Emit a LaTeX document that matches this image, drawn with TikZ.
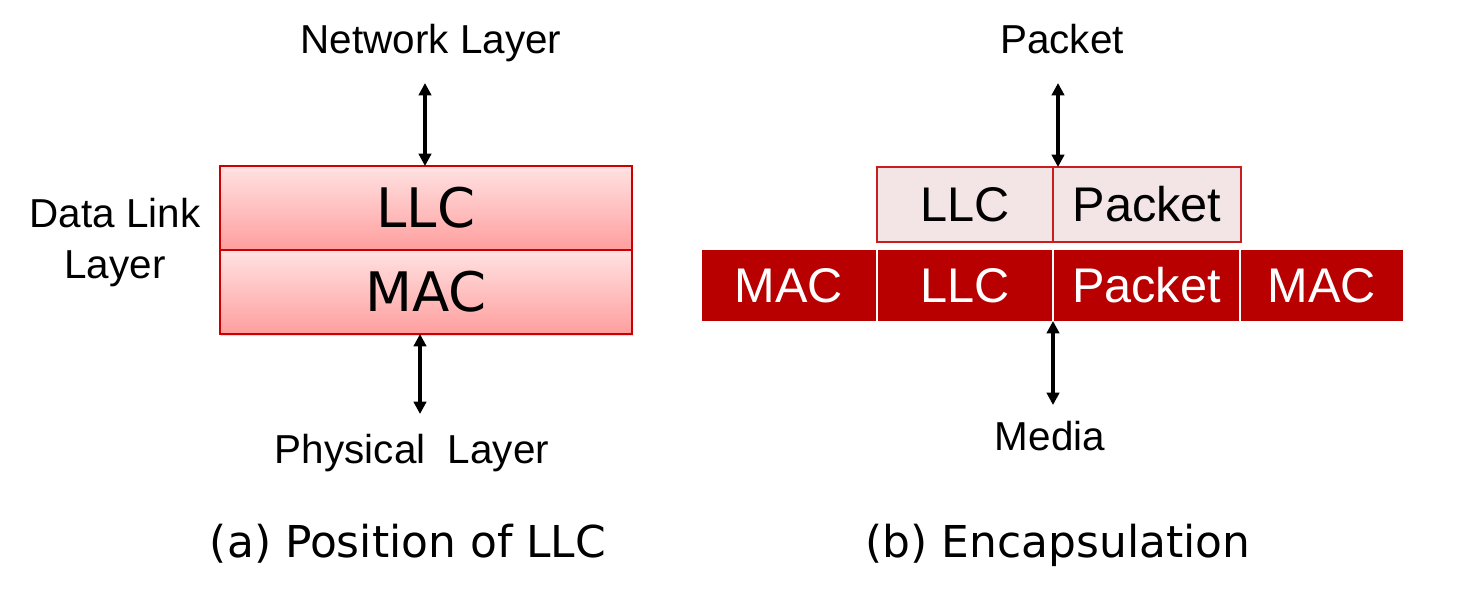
\documentclass[tikz,border=0pt]{standalone}
\usepackage{fontspec}
\setmainfont{Liberation Sans}
\newfontfamily\boxfont{DejaVu Sans}
\usetikzlibrary{arrows.meta, positioning, shadows}

\definecolor{llcred}{RGB}{204,0,0}
\definecolor{pinktop}{RGB}{255,226,226}
\definecolor{pinkbot}{RGB}{255,158,158}
\definecolor{framered}{RGB}{200,30,30}
\definecolor{lightpink}{RGB}{243,229,229}
\definecolor{darkred}{RGB}{184,0,0}

\tikzset{
  layerbox/.style={rectangle, inner sep=0pt, outer sep=0pt, draw=llcred, line width=1.1pt,
    top color=pinktop, bottom color=pinkbot, minimum width=8.24cm, minimum height=1.68cm,
    font=\boxfont\fontsize{31}{36}\selectfont},
  headbox/.style={rectangle, inner sep=0pt, outer sep=0pt, draw=framered, line width=0.9pt,
    fill=lightpink, minimum height=1.5cm, font=\fontsize{27.7}{32}\selectfont},
  framebox/.style={rectangle, inner sep=0pt, outer sep=0pt, fill=darkred, text=white,
    minimum height=1.42cm, font=\fontsize{27.7}{32}\selectfont},
  lbl/.style={inner sep=0pt, anchor=base, font=\fontsize{23}{29}\selectfont},
  caption/.style={inner sep=0pt, anchor=base, font=\boxfont\fontsize{25}{30}\selectfont},
  dbl/.style={{Triangle[length=7pt,width=7pt]}-{Triangle[length=7pt,width=7pt]}, line width=1.8pt}
}

\begin{document}
\begin{tikzpicture}[x=0.02cm, y=-0.02cm]
  \useasboundingbox (0,0) rectangle (1463,589);

  % (a) position of LLC
  \node[layerbox, drop shadow={opacity=0.25, shadow xshift=0.6pt, shadow yshift=-1.2pt}] (llc) at (426,208) {LLC};
  \node[layerbox, drop shadow={opacity=0.25, shadow xshift=0.6pt, shadow yshift=-1.2pt}] (mac) [below=0pt of llc] {MAC};
  \node[layerbox] at (llc) {LLC};
  \node[lbl] (net) at (431,53) {Network Layer};
  \node[inner sep=0pt, align=center, font=\fontsize{23}{29}\selectfont] (dll) at (115,243) {Data Link\\Layer};
  \node[lbl] (phy) at (412,463) {Physical\ \ Layer};
  \node[caption] (capa) at (408,557) {(a) Position of LLC};
  \coordinate (netTip) at (425,83);
  \coordinate (phyTip) at (420,414);

  % (b) encapsulation
  \node[headbox, minimum width=3.52cm] (llcTop) at (965,204.5) {LLC};
  \node[headbox, minimum width=3.76cm] (pktTop) [right=0pt of llcTop] {Packet};
  \node[framebox, minimum width=3.48cm] (llcBot) at (965,285.5) {LLC};
  \node[framebox, minimum width=3.48cm] (macL) [left=0.04cm of llcBot] {MAC};
  \node[framebox, minimum width=3.7cm] (pktBot) [right=0.04cm of llcBot] {Packet};
  \node[framebox, minimum width=3.24cm] (macR) [right=0.04cm of pktBot] {MAC};
  \node[lbl] (pkt) at (1062,53) {Packet};
  \node[lbl] (media) at (1050,450) {Media};
  \node[caption] (capb) at (1058,557) {(b) Encapsulation};
  \coordinate (pktTip) at (1058,83);
  \coordinate (mediaTip) at (1053,405);

  \path[dbl]
    (netTip) edge (netTip |- llc.north)
    (phyTip |- mac.south) edge (phyTip)
    (pktTip) edge (pktTip |- llcTop.north)
    (mediaTip |- llcBot.south) edge (mediaTip);
\end{tikzpicture}
\end{document}
